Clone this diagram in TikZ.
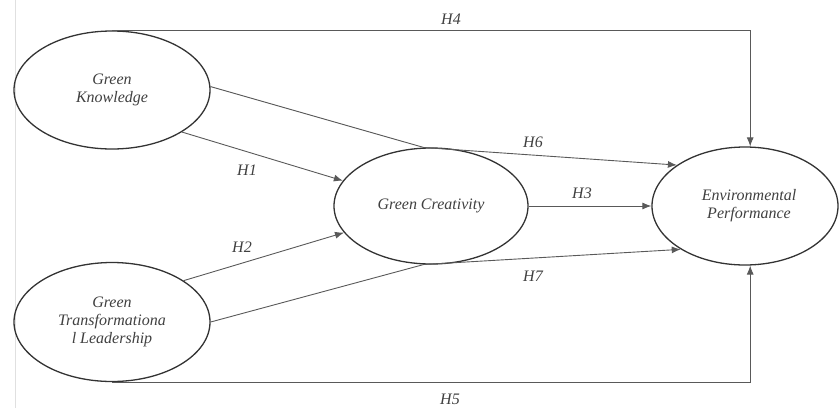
\documentclass[tikz,border=0pt]{standalone}
\usepackage{fontspec}
\setmainfont{Liberation Serif}
\usetikzlibrary{shapes.geometric,arrows.meta}
\tikzset{
  construct/.style={ellipse, draw=black!80, line width=1.3pt, inner sep=0pt, align=center,
    font=\fontsize{16}{18}\selectfont\itshape, text=black!75},
  path/.style={draw=black!65, line width=0.9pt, -{Latex[length=9pt,width=7pt]}},
  hyp/.style={font=\fontsize{16}{18}\selectfont\itshape, text=black!75, inner sep=0pt}
}
\begin{document}
\begin{tikzpicture}[x=1pt,y=-1pt]
\useasboundingbox (0,0) rectangle (839,408);
\draw[black!12, line width=0.6pt] (15,0) -- (15,408);
\node[construct, minimum width=196pt, minimum height=118pt] (GK) at (112,90) {Green\\Knowledge};
\node[construct, minimum width=196pt, minimum height=119pt] (GTL) at (112,322) {Green\\Transformationa\\l Leadership};
\node[construct, minimum width=194pt, minimum height=116pt] (GC) at (431,206) {Green Creativity};
\node[construct, minimum width=186pt, minimum height=118pt] (EP) at (745,206) {\hspace*{8pt}Environmental\\\hspace*{8pt}Performance};
\draw[path] (GK.-31.2) -- (GC.164.7);
\draw[path] (GTL.30.6) -- (GC.-163);
\draw[path] (GK.2.3) -- (GC.97) -- (EP.149.8);
\draw[path] (GTL.-0.6) -- (GC.-97) -- (EP.-146);
\draw[path] (GC.east) -- (EP.west);
\draw[path] (GK.north) -| (EP.85);
\draw[path] (GTL.south) -| (EP.-85);
\node[hyp] (h1) at (247,170) {H1};
\node[hyp] (h2) at (242,247) {H2};
\node[hyp] (h3) at (582,193) {H3};
\node[hyp] (h4) at (451,19) {H4};
\node[hyp] (h5) at (450,399) {H5};
\node[hyp] (h6) at (533,142) {H6};
\node[hyp] (h7) at (533,276) {H7};
\end{tikzpicture}
\end{document}
